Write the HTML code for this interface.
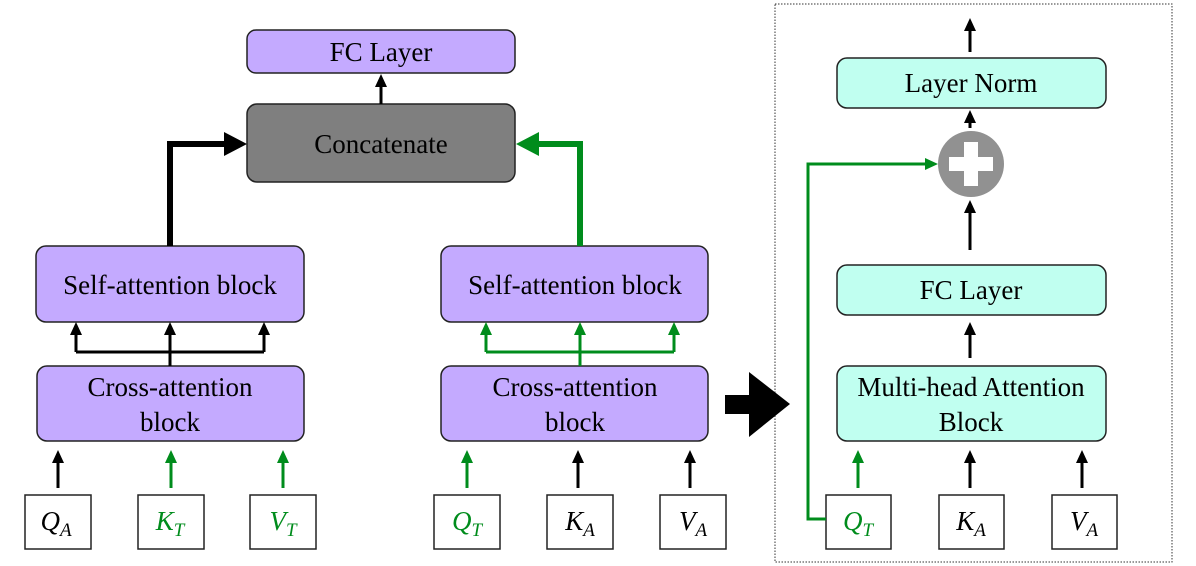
<!DOCTYPE html>
<html><head><meta charset="utf-8"><style>
html,body{margin:0;padding:0;background:#fff;}
svg{display:block;}
text{font-family:"Times New Roman","Liberation Serif","DejaVu Serif",serif;font-size:27px;text-anchor:middle;}
</style></head><body>
<svg width="1196" height="566" viewBox="0 0 1196 566" xmlns="http://www.w3.org/2000/svg">
<g stroke="#222" stroke-width="1.5">
<rect x="247" y="30" width="268" height="43" rx="9" fill="#c4aaff"/>
<rect x="247" y="104" width="268" height="78" rx="10" fill="#7f7f7f"/>
<rect x="36" y="246" width="268" height="76" rx="10" fill="#c4aaff"/>
<rect x="37" y="366" width="267" height="75" rx="10" fill="#c4aaff"/>
<rect x="441" y="246" width="267" height="76" rx="10" fill="#c4aaff"/>
<rect x="441" y="366" width="267" height="75" rx="10" fill="#c4aaff"/>
<rect x="837" y="58" width="269" height="50" rx="10" fill="#c0fff0"/>
<rect x="837" y="265" width="269" height="50" rx="10" fill="#c0fff0"/>
<rect x="837" y="366" width="269" height="75" rx="10" fill="#c0fff0"/>
<g fill="#fff">
<rect x="25" y="495" width="66" height="54"/><rect x="138" y="495" width="66" height="54"/><rect x="250" y="495" width="66" height="54"/>
<rect x="434" y="495" width="66" height="54"/><rect x="547" y="495" width="66" height="54"/><rect x="660" y="495" width="66" height="54"/>
<rect x="826" y="495" width="65" height="54"/><rect x="939" y="495" width="65" height="54"/><rect x="1052" y="495" width="65" height="54"/>
</g>
</g>
<rect x="775" y="4" width="397" height="558" fill="none" stroke="#333" stroke-width="1" stroke-dasharray="1.5,1.5"/>
<circle cx="971" cy="164" r="33" fill="#919191"/>
<rect x="949" y="157" width="44" height="14" fill="#fff"/><rect x="964" y="142" width="14" height="44" fill="#fff"/>
<path d="M170,246V144H226" fill="none" stroke="#000" stroke-width="6"/>
<path d="M247,144L224,132V156Z" fill="#000"/>
<path d="M580,246V144H534" fill="none" stroke="#008c1c" stroke-width="6"/>
<path d="M516,144L539,132V156Z" fill="#008c1c"/>
<g fill="none" stroke-width="3">
<path d="M381,104V86" stroke="#000"/>
<path d="M170,366V352M76,352H264M76,352V334M170,352V334M264,352V334" stroke="#000"/>
<path d="M580,366V352M486,352H674M486,352V334M580,352V334M674,352V334" stroke="#008c1c"/>
<path d="M58,488V462M578,488V462M690,488V462M970,488V462M1082,488V462M970,358V334M970,250V212M970,128V122M970,52V30" stroke="#000"/>
<path d="M171,488V462M283,488V462M467,488V462M858,488V462" stroke="#008c1c"/>
<path d="M826,519H808V164H925" stroke="#008c1c"/>
</g>
<g fill="#000">
<path d="M381,74l-6,13h12z"/>
<path d="M76,322l-6,13h12z"/><path d="M170,322l-6,13h12z"/><path d="M264,322l-6,13h12z"/>
<path d="M58,450l-6,13h12z"/><path d="M578,450l-6,13h12z"/><path d="M690,450l-6,13h12z"/>
<path d="M970,450l-6,13h12z"/><path d="M1082,450l-6,13h12z"/>
<path d="M970,322l-6,13h12z"/><path d="M970,200l-6,13h12z"/><path d="M970,110l-6,13h12z"/><path d="M970,18l-6,13h12z"/>
</g>
<g fill="#008c1c">
<path d="M486,322l-6,13h12z"/><path d="M580,322l-6,13h12z"/><path d="M674,322l-6,13h12z"/>
<path d="M171,450l-6,13h12z"/><path d="M283,450l-6,13h12z"/><path d="M467,450l-6,13h12z"/><path d="M858,450l-6,13h12z"/>
<path d="M938,164l-13,-6v12z"/>
</g>
<path d="M725,395H749V372L790,404L749,437V414H725Z" fill="#000"/>
<text x="381" y="61">FC Layer</text>
<text x="381" y="153">Concatenate</text>
<text x="170" y="294">Self-attention block</text>
<text x="575" y="294">Self-attention block</text>
<text x="170" y="396">Cross-attention</text><text x="170" y="431">block</text>
<text x="575" y="396">Cross-attention</text><text x="575" y="431">block</text>
<text x="971" y="92">Layer Norm</text>
<text x="971" y="299">FC Layer</text>
<text x="971" y="396">Multi-head Attention</text><text x="971" y="431">Block</text>
<g font-style="italic">
<text x="56" y="530">Q<tspan font-size="19" dy="6">A</tspan></text>
<text x="170" y="530" fill="#008c1c">K<tspan font-size="19" dy="6">T</tspan></text>
<text x="283" y="530" fill="#008c1c">V<tspan font-size="19" dy="6">T</tspan></text>
<text x="467" y="530" fill="#008c1c">Q<tspan font-size="19" dy="6">T</tspan></text>
<text x="580" y="530">K<tspan font-size="19" dy="6">A</tspan></text>
<text x="693" y="530">V<tspan font-size="19" dy="6">A</tspan></text>
<text x="858" y="530" fill="#008c1c">Q<tspan font-size="19" dy="6">T</tspan></text>
<text x="971" y="530">K<tspan font-size="19" dy="6">A</tspan></text>
<text x="1084" y="530">V<tspan font-size="19" dy="6">A</tspan></text>
</g>
</svg>
</body></html>
